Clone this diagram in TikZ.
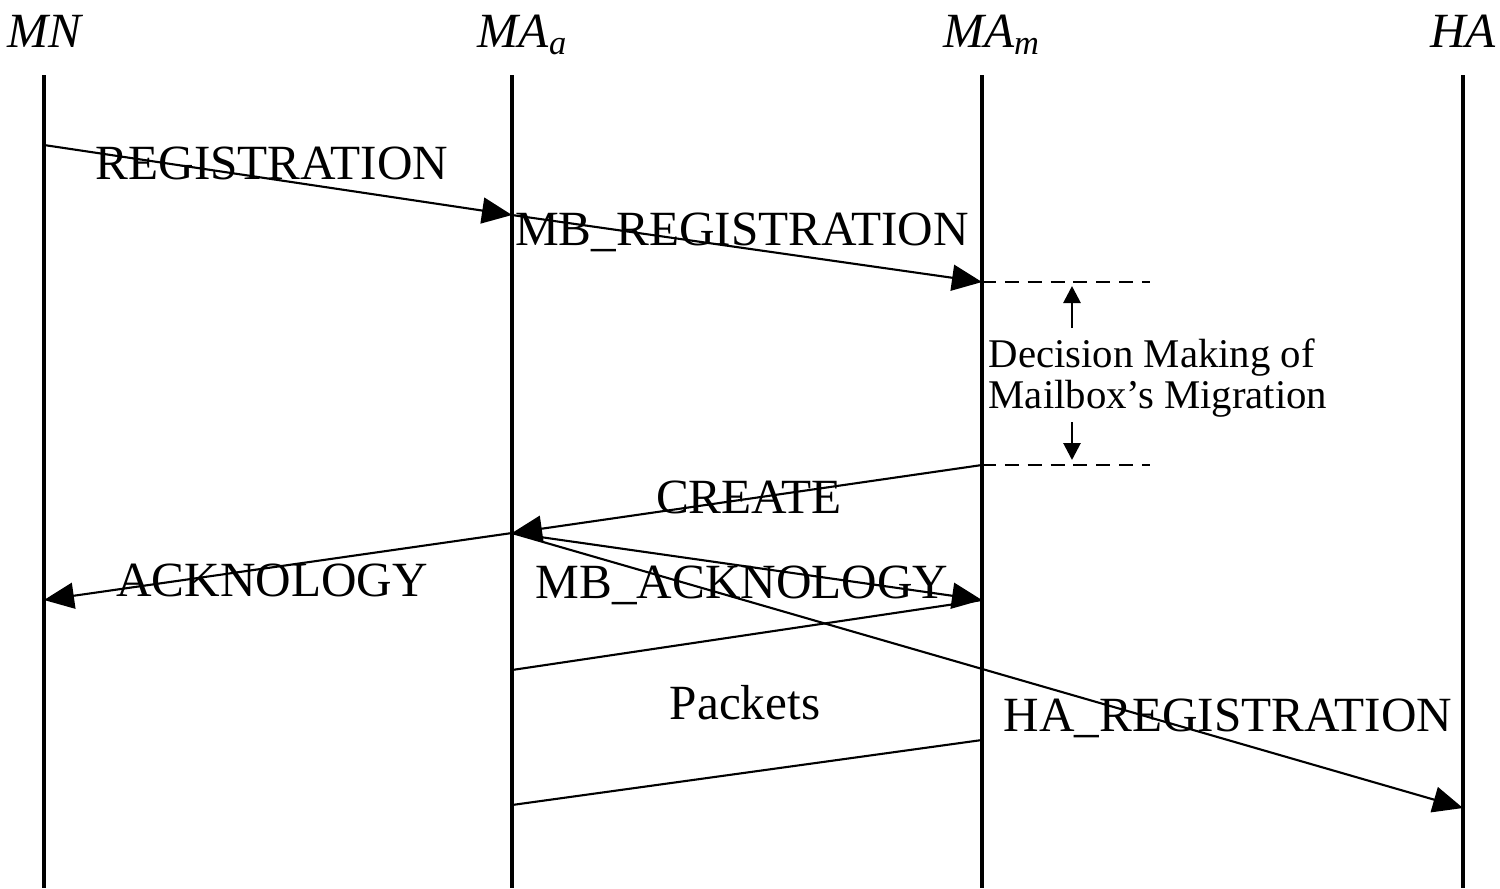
\documentclass[tikz,border=0pt]{standalone}
\usepackage{fontspec}
\setmainfont{Liberation Serif}
\usetikzlibrary{arrows.meta}

\tikzset{
  life/.style={line width=0.9pt},
  msg/.style={-{Triangle[length=3mm,width=2.6mm]}, line width=0.6pt},
  tick/.style={-{Triangle[length=1.7mm,width=1.7mm]}, line width=0.8pt},
  head/.style={font=\fontsize{14}{16}\selectfont\itshape, inner sep=0pt, anchor=base},
  lbl/.style={font=\fontsize{14}{16}\selectfont, inner sep=0pt},
}

\begin{document}
\begin{tikzpicture}
 \useasboundingbox (0,0) rectangle (15,-8.88);

 % entities
 \node[head] (mn) at (0.44,-0.47) {MN};
 \node[head] (maa) at (5.23,-0.47) {MA\textsubscript{a}};
 \node[head] (mam) at (9.92,-0.47) {MA\textsubscript{m}};
 \node[head] (ha) at (14.63,-0.47) {HA};

 % lifelines
 \coordinate (mnT) at (0.44,-0.75);  \coordinate (mnB) at (0.44,-8.88);
 \coordinate (maaT) at (5.12,-0.75); \coordinate (maaB) at (5.12,-8.88);
 \coordinate (mamT) at (9.82,-0.75); \coordinate (mamB) at (9.82,-8.88);
 \coordinate (haT) at (14.63,-0.75); \coordinate (haB) at (14.63,-8.88);
 \draw[life] (mnT) -- (mnB);
 \draw[life] (maaT) -- (maaB);
 \draw[life] (mamT) -- (mamB);
 \draw[life] (haT) -- (haB);

 % message end points
 \coordinate (mn1) at (0.44,-1.45);
 \coordinate (maa1) at (5.12,-2.15);
 \coordinate (mam1) at (9.82,-2.82);
 \coordinate (mam2) at (9.82,-4.65);
 \coordinate (maa2) at (5.12,-5.33);
 \coordinate (mn2) at (0.44,-6.00);
 \coordinate (mam3) at (9.82,-6.00);
 \coordinate (maa3) at (5.12,-6.70);
 \coordinate (mam4) at (9.82,-7.40);
 \coordinate (maa4) at (5.12,-8.05);
 \coordinate (ha1) at (14.63,-8.08);

 % messages
 \draw[msg] (mn1) -- (maa1);
 \draw[msg] (maa1) -- (mam1);
 \draw[msg] (mam2) -- (maa2);
 \draw[msg] (maa2) -- (mn2);
 \draw[msg] (maa2) -- (mam3);
 \draw[msg] (maa2) -- (ha1);
 \draw[line width=0.6pt] (mam3) -- (maa3);
 \draw[line width=0.6pt] (mam4) -- (maa4);

 \node[lbl] (reg) at (2.72,-1.63) {REGISTRATION};
 \node[lbl] (mbreg) at (7.42,-2.32) {MB\_REGISTRATION};
 \node[lbl] (create) at (7.49,-4.97) {CREATE};
 \node[lbl] (ack) at (2.72,-5.80) {ACKNOLOGY};
 \node[lbl] (mback) at (7.42,-5.85) {MB\_ACKNOLOGY};
 \node[lbl] (pkt) at (7.45,-7.03) {Packets};
 \node[lbl] (hareg) at (12.28,-7.18) {HA\_REGISTRATION};

 % decision interval
 \coordinate (d1) at (11.50,-2.82);
 \coordinate (d2) at (11.50,-4.65);
 \draw[dash pattern=on 4pt off 2.5pt, line width=0.6pt] (mam1) -- (d1);
 \draw[dash pattern=on 4pt off 2.5pt, line width=0.6pt] (mam2) -- (d2);
 \node[font=\fontsize{11.6}{11.6}\selectfont, align=left, inner sep=0pt] (dec) at (11.58,-3.78)
   {Decision Making of\\Mailbox's Migration};
 \coordinate (up1) at (10.72,-3.28); \coordinate (up2) at (10.72,-2.86);
 \coordinate (dn1) at (10.72,-4.22); \coordinate (dn2) at (10.72,-4.60);
 \draw[tick] (up1) -- (up2);
 \draw[tick] (dn1) -- (dn2);
\end{tikzpicture}
\end{document}
